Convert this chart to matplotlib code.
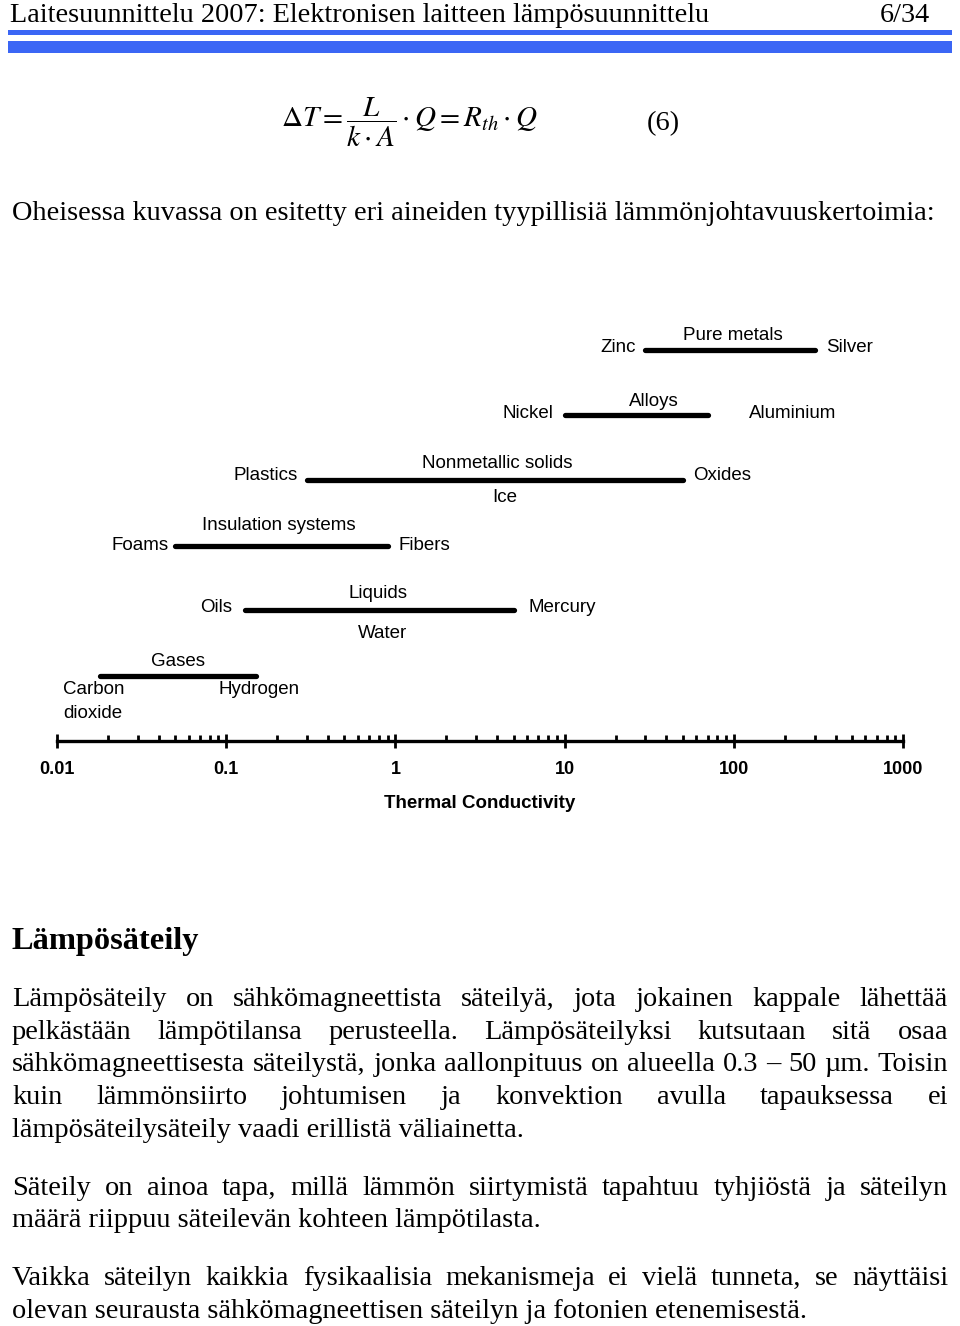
import matplotlib
matplotlib.use("Agg")
import matplotlib.pyplot as plt
from matplotlib.patches import Rectangle
from matplotlib.ticker import FixedLocator, LogLocator, NullFormatter, FixedFormatter

# =========================
# Data: thermal conductivity ranges (W/mK)
# =========================
materials = ["Pure metals", "Alloys", "Nonmetallic solids",
             "Insulation systems", "Liquids", "Gases"]
k_low = [30, 10, 0.3, 0.05, 0.13, 0.018]
k_high = [300, 70, 50, 0.9, 5.0, 0.15]
row_y = [350, 415, 480, 546, 610, 676]   # vertical position of each row (page px)

tick_values = [0.01, 0.1, 1, 10, 100, 1000]
tick_labels = ["0.01", "0.1", "1", "10", "100", "1000"]

# end / extra labels: (text, x, y, ha)
side_labels = [
    ("Zinc", 636, 348, "right"), ("Silver", 826, 348, "left"),
    ("Nickel", 553, 413, "right"), ("Aluminium", 749, 413, "left"),
    ("Plastics", 298, 475, "right"), ("Oxides", 693, 475, "left"),
    ("Ice", 505, 498, "center"),
    ("Foams", 169, 545, "right"), ("Fibers", 399, 545, "left"),
    ("Oils", 232, 607, "right"), ("Mercury", 529, 607, "left"),
    ("Water", 383, 634, "center"),
    ("Carbon", 63, 690, "left"), ("dioxide", 63, 714, "left"),
    ("Hydrogen", 219, 690, "left"),
]
title_x = [733, 654, 497, 279, 378, 178]
title_y = [335, 401, 463, 526, 593, 662]

# =========================
# Page text
# =========================
header = "Laitesuunnittelu 2007: Elektronisen laitteen lämpösuunnittelu"
page_no = "6/34"
intro = "Oheisessa kuvassa on esitetty eri aineiden tyypillisiä lämmönjohtavuuskertoimia:"
heading = "Lämpösäteily"
# (line, baseline y, justified)
body = [
    ("Lämpösäteily on sähkömagneettista säteilyä, jota jokainen kappale lähettää", 1006, True),
    ("pelkästään lämpötilansa perusteella. Lämpösäteilyksi kutsutaan sitä osaa", 1039, True),
    ("sähkömagneettisesta säteilystä, jonka aallonpituus on alueella 0.3 – 50 µm. Toisin", 1071, True),
    ("kuin lämmönsiirto johtumisen ja konvektion avulla tapauksessa ei", 1104, True),
    ("lämpösäteilysäteily vaadi erillistä väliainetta.", 1137, False),
    ("Säteily on ainoa tapa, millä lämmön siirtymistä tapahtuu tyhjiöstä ja säteilyn", 1195, True),
    ("määrä riippuu säteilevän kohteen lämpötilasta.", 1227, False),
    ("Vaikka säteilyn kaikkia fysikaalisia mekanismeja ei vielä tunneta, se näyttäisi", 1285, True),
    ("olevan seurausta sähkömagneettisen säteilyn ja fotonien etenemisestä.", 1318, False),
]

plt.rcParams['mathtext.fontset'] = 'stix'
SERIF = "Liberation Serif"
SANS = "Liberation Sans"
BODY_SIZE = 20.4
BLUE = "#3b66f5"

W, H = 960, 1326
fig = plt.figure(figsize=(W / 100, H / 100), dpi=100)

# page axes in pixel coordinates
page = fig.add_axes([0, 0, 1, 1])
page.set_xlim(0, W)
page.set_ylim(H, 0)
page.axis('off')

# header
page.text(10, 22, header, family=SERIF, fontsize=20.3, va='baseline', ha='left')
page.text(930, 22, page_no, family=SERIF, fontsize=20.3, va='baseline', ha='right')
page.add_patch(Rectangle((8, 29.5), 944, 5, color=BLUE, lw=0))
page.add_patch(Rectangle((8, 40.5), 944, 12, color=BLUE, lw=0))

# equation
page.text(409, 122, r"$\Delta T = \dfrac{L}{k\cdot A}\cdot Q = R_{th}\cdot Q$",
          fontsize=21, va='center', ha='center')
page.text(647, 130, "(6)", family=SERIF, fontsize=BODY_SIZE, va='baseline', ha='left')

page.text(12, 220, intro, family=SERIF, fontsize=BODY_SIZE, va='baseline', ha='left')

page.text(12, 949, heading, family=SERIF, fontsize=23.3, fontweight='bold',
          va='baseline', ha='left')

renderer = fig.canvas.get_renderer()
LEFT, RIGHT = 12, 948
for line, y, just in body:
    if not just:
        page.text(LEFT, y, line, family=SERIF, fontsize=BODY_SIZE, va='baseline', ha='left')
        continue
    words = line.split(" ")
    arts = [page.text(0, y, w, family=SERIF, fontsize=BODY_SIZE, va='baseline', ha='left')
            for w in words]
    widths = [a.get_window_extent(renderer).width for a in arts]
    gap = (RIGHT - LEFT - sum(widths)) / (len(words) - 1)
    x = LEFT
    for a, wd in zip(arts, widths):
        a.set_x(x)
        x += wd + gap

# =========================
# Chart axes (log x, y in page pixels)
# =========================
x0, x1 = 57, 903
y_top, y_axis = 320, 741
ax = fig.add_axes([x0 / W, 1 - y_axis / H, (x1 - x0) / W, (y_axis - y_top) / H])
ax.set_facecolor('none')
ax.set_xscale('log')
ax.set_xlim(tick_values[0], tick_values[-1])
ax.set_ylim(y_axis, y_top)

for lo, hi, y in zip(k_low, k_high, row_y):
    ax.plot([lo, hi], [y, y], color='black', lw=3.8, solid_capstyle='round')

for name, tx, ty in zip(materials, title_x, title_y):
    page.text(tx, ty, name, family=SANS, fontsize=13.5, va='center', ha='center')
for txt, tx, ty, ha in side_labels:
    page.text(tx, ty, txt, family=SANS, fontsize=13.5, va='center', ha=ha)

for s in ['top', 'left', 'right']:
    ax.spines[s].set_visible(False)
ax.spines['bottom'].set_linewidth(2.4)
ax.yaxis.set_visible(False)
ax.xaxis.set_major_locator(FixedLocator(tick_values))
ax.xaxis.set_major_formatter(FixedFormatter(tick_labels))
ax.xaxis.set_minor_locator(LogLocator(base=10, subs=range(2, 10)))
ax.xaxis.set_minor_formatter(NullFormatter())
ax.tick_params(axis='x', which='major', direction='inout', length=9.5, width=2,
               pad=10, labelsize=13)
ax.tick_params(axis='x', which='minor', direction='in', length=4.5, width=2)
for lab in ax.get_xticklabels():
    lab.set_family(SANS)
    lab.set_fontweight('bold')
ax.set_xlabel("Thermal Conductivity", family=SANS, fontsize=13.5,
              fontweight='bold', labelpad=12)

fig.savefig("out.png", dpi=100)
